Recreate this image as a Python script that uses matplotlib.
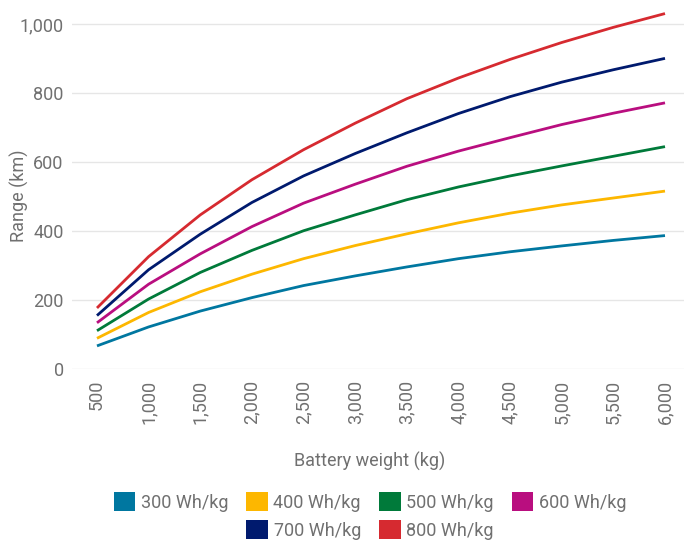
import matplotlib
matplotlib.use("Agg")
import matplotlib.pyplot as plt
from matplotlib.patches import Patch
from matplotlib.ticker import FuncFormatter

weights = [500, 1000, 1500, 2000, 2500, 3000, 3500, 4000, 4500, 5000, 5500, 6000]
range_300 = [67, 122, 168, 207, 242, 270, 296, 320, 340, 357, 373, 387]
range_400 = [89, 164, 224, 275, 320, 358, 392, 424, 452, 476, 496, 516]
range_500 = [111, 203, 280, 344, 401, 447, 491, 528, 560, 589, 617, 645]
range_600 = [134, 246, 334, 413, 481, 536, 588, 632, 671, 709, 742, 772]
range_700 = [155, 288, 391, 483, 560, 625, 685, 741, 790, 832, 868, 901]
range_800 = [177, 326, 447, 549, 636, 713, 784, 844, 898, 947, 991, 1031]
labels = ["300 Wh/kg", "400 Wh/kg", "500 Wh/kg", "600 Wh/kg", "700 Wh/kg", "800 Wh/kg"]
colors = ["#0077A0", "#FDB700", "#007A3A", "#B90E7F", "#001A6E", "#D62A30"]
series = [range_300, range_400, range_500, range_600, range_700, range_800]

plt.rcParams['font.family'] = ['Roboto', 'DejaVu Sans']
txt = "#707070"
fs = 13

fig = plt.figure(figsize=(6.84, 5.44), dpi=100)
ax = fig.add_axes([72/684, (544-369)/544, 612/684, (369-7)/544])

for vals, c in zip(series, colors):
    ax.plot(weights, vals, color=c, lw=2.0, solid_capstyle='butt', zorder=3)

ax.set_xlim(258, 6184)
ax.set_ylim(0, 1050)
ax.set_yticks([0, 200, 400, 600, 800, 1000])
ax.set_xticks(weights)
fmt = FuncFormatter(lambda v, p: f"{int(v):,}")
ax.xaxis.set_major_formatter(fmt)
ax.yaxis.set_major_formatter(fmt)
ax.grid(axis='y', color='#e6e6e6', lw=1.0, zorder=0)
ax.set_axisbelow(True)
for s in ax.spines.values():
    s.set_visible(False)
ax.tick_params(axis='both', length=0, colors=txt, labelsize=fs)
ax.tick_params(axis='x', pad=8, labelrotation=90)
ax.tick_params(axis='y', pad=6)

ax.set_ylabel("Range (km)", color=txt, fontsize=fs)
ax.yaxis.set_label_coords(19/684, 1 - 196/544, transform=fig.transFigure)
ax.yaxis.label.set_va('center')
ax.set_xlabel("Battery weight (kg)", color=txt, fontsize=fs)
ax.xaxis.set_label_coords(370/684, 1 - 461/544, transform=fig.transFigure)
ax.xaxis.label.set_va('center')

handles = [Patch(facecolor=c, edgecolor='none') for c in colors]
kw = dict(frameon=False, handlelength=1.2, handleheight=1.2,
          handletextpad=0.3, columnspacing=1.0, labelcolor=txt, borderaxespad=0,
          prop={'size': fs})
leg1 = fig.legend(handles[:4], labels[:4], ncol=4, loc='center',
                  bbox_to_anchor=(370/684, (544-502)/544), **kw)
leg2 = fig.legend(handles[4:], labels[4:], ncol=2, loc='center',
                  bbox_to_anchor=(370/684, (544-530)/544), **kw)

fig.savefig("out.png", dpi=100)
